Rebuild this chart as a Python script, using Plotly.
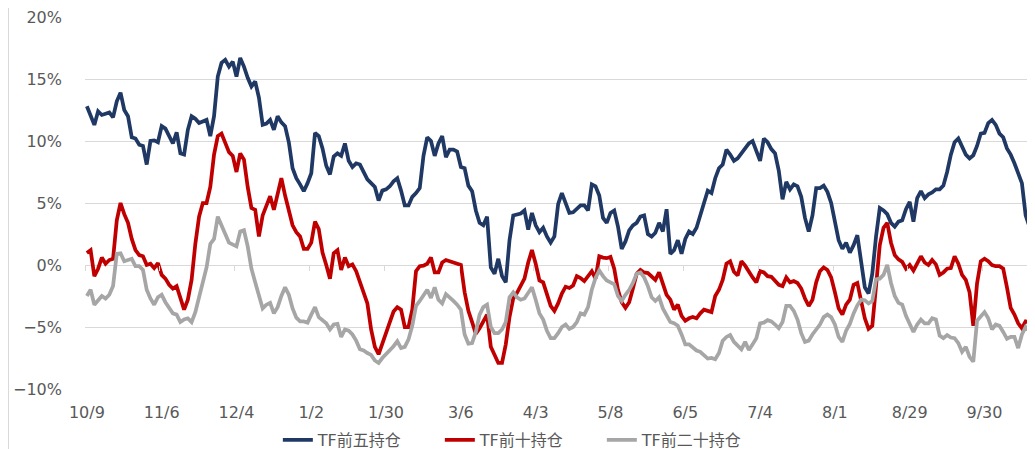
import plotly.graph_objects as go

tick_labels = ["10/9", "11/6", "12/4", "1/2", "1/30", "3/6", "4/3", "5/8",
               "6/5", "7/4", "8/1", "8/29", "9/30"]

top5 = [12.8, 12.0, 11.3, 12.4, 12.1, 12.2, 12.3, 11.9, 13.2, 13.9,
        12.5, 12.0, 10.3, 10.2, 9.7, 9.6, 8.1, 10.0, 10.05, 9.9,
        11.2, 11.0, 10.4, 9.8, 10.7, 9.0, 8.9, 10.9, 12.0, 11.8,
        11.45, 11.6, 11.7, 10.4, 12.0, 15.2, 16.3, 16.55, 16.0, 16.4,
        15.2, 16.7, 16.0, 15.1, 14.4, 14.8, 13.5, 11.3, 11.4, 11.7,
        10.9, 12.0, 11.5, 11.2, 9.9, 7.8, 7.0, 6.5, 5.95, 6.6,
        7.4, 10.65, 10.4, 9.4, 8.0, 7.3, 8.75, 9.0, 8.8, 9.8,
        8.4, 7.9, 8.2, 8.1, 7.55, 6.9, 6.6, 6.3, 5.2, 6.0,
        6.1, 6.35, 6.75, 7.0, 6.0, 4.8, 4.8, 5.5, 5.8, 6.2,
        8.8, 10.3, 10.0, 8.8, 9.8, 10.4, 8.7, 9.3, 9.3, 9.15,
        7.9, 7.8, 6.4, 5.95, 4.4, 3.4, 3.2, 3.9, -0.2, -0.7,
        0.5, -0.9, -1.4, 2.0, 4.0, 4.1, 4.15, 4.4, 2.85, 4.2,
        3.2, 2.65, 3.0, 2.3, 1.8, 2.3, 4.9, 5.8, 5.0, 4.2,
        4.25, 4.55, 4.8, 4.8, 4.4, 6.5, 6.35, 5.6, 3.8, 3.4,
        4.2, 4.4, 3.1, 1.3, 1.9, 2.8, 3.2, 3.4, 3.9, 4.0,
        2.5, 2.3, 2.6, 3.4, 2.7, 4.5, 0.9, 1.2, 2.0, 0.9,
        2.1, 2.7, 2.5, 3.0, 3.9, 5.0, 6.0, 5.8, 7.0, 7.8,
        8.1, 9.3, 8.9, 8.4, 8.6, 9.0, 9.3, 9.8, 10.0, 9.1,
        8.4, 10.2, 9.9, 9.35, 9.0, 7.6, 5.3, 6.7, 6.1, 6.5,
        6.35, 5.5, 3.8, 2.7, 4.0, 6.2, 6.2, 6.4, 5.9, 5.0,
        3.3, 2.0, 1.3, 1.8, 1.0, 1.6, 2.4, 0.4, -1.8, -2.3,
        -0.7, 2.3, 4.6, 4.4, 4.1, 3.4, 3.1, 3.5, 3.6, 4.5,
        5.1, 3.5, 5.4, 5.95, 5.4, 5.7, 5.85, 6.1, 6.1, 6.4,
        7.5, 8.9, 9.9, 10.2, 9.6, 8.9, 8.6, 8.85, 9.6, 10.6,
        10.65, 11.45, 11.7, 11.3, 10.6, 10.3, 9.4, 8.9, 8.2, 7.45,
        6.6, 4.0, 3.1, 3.8]

top10 = [0.97, 1.2, -0.9, -0.3, 0.6, 0.1, 0.4, 0.5, 3.6, 5.0,
         4.1, 3.4, 2.1, 1.2, 0.8, 0.7, 0.0, 0.1, -0.25, 0.15,
         -0.8, -1.1, -1.6, -1.9, -1.7, -2.6, -3.6, -2.8, -1.2, 1.7,
         3.9, 5.0, 5.0, 6.3, 8.9, 10.4, 10.6, 9.85, 9.1, 8.8,
         7.5, 9.0, 8.5, 6.3, 4.6, 4.45, 2.3, 4.0, 4.8, 5.55,
         4.45, 5.6, 7.0, 5.6, 4.5, 3.2, 2.65, 2.3, 1.3, 1.3,
         1.8, 3.5, 2.9, 1.0, 0.0, -1.1, 0.95, 1.2, -0.4, 0.6,
         -0.1, 0.05, -0.5, -1.4, -2.25, -3.1, -5.2, -6.6, -7.2, -6.4,
         -5.5, -4.6, -3.75, -3.4, -3.6, -5.0, -5.0, -3.6, -0.5, -0.1,
         -0.05, 0.1, 0.6, -0.6, -0.6, 0.2, 0.4, 0.3, 0.2, 0.1,
         0.0, -2.2, -3.7, -4.6, -5.55, -5.1, -4.6, -4.0, -6.6, -7.2,
         -7.9, -7.9, -6.4, -4.2, -2.7, -2.25, -1.6, -1.1, 0.2, 1.2,
         0.1, -1.25, -1.4, -2.4, -3.3, -3.7, -3.1, -2.3, -1.75, -1.85,
         -1.65, -0.9, -1.05, -1.3, -0.85, -0.5, -1.1, 0.7, 0.6, 0.55,
         0.65, -0.3, -2.0, -3.0, -3.45, -3.0, -1.9, -0.7, -0.4, -0.6,
         -0.65, -0.95, -1.2, -0.6, -1.5, -2.4, -2.8, -3.6, -3.2, -4.1,
         -4.5, -4.3, -4.2, -4.3, -3.9, -3.6, -3.7, -3.8, -2.5, -2.0,
         -1.2, 0.1, 0.3, -0.55, -0.85, 0.3, -0.05, -0.6, -1.0, -1.4,
         -0.5, -0.6, -0.9, -0.95, -1.25, -1.6, -1.7, -1.0, -1.4, -1.3,
         -1.45, -1.9, -2.7, -3.3, -2.8, -1.4, -0.5, -0.2, -0.4, -1.0,
         -2.2, -3.5, -4.0, -3.2, -2.8, -1.6, -1.45, -2.85, -4.3, -5.15,
         -4.9, -1.7, 1.6, 3.0, 3.4, 1.8, 0.8, 0.45, 0.25, -0.3,
         0.0, -0.45, 0.1, 0.7, 0.2, 0.0, 0.4, 0.05, -0.8, -0.6,
         -0.3, -0.25, 0.7, 0.1, -0.8, -1.2, -2.2, -4.9, -1.5, 0.3,
         0.5, 0.3, 0.0, -0.1, -0.1, -0.3, -1.8, -3.45, -4.0, -4.7,
         -5.1, -4.55, -4.6, -5.2]

top20 = [-2.5, -2.0, -3.2, -2.8, -2.5, -2.7, -2.4, -1.7, 0.9, 0.95,
         0.3, 0.4, 0.5, -0.1, -0.1, -0.4, -2.0, -2.7, -3.2, -2.6,
         -2.4, -3.0, -3.5, -3.9, -4.0, -4.6, -4.4, -4.3, -4.6, -3.8,
         -2.6, -1.4, -0.2, 1.7, 2.1, 3.9, 3.1, 2.5, 1.8, 1.65,
         1.5, 2.7, 2.8, 1.5, -0.3, -1.4, -2.5, -3.5, -3.2, -3.05,
         -3.9, -3.4, -2.5, -1.8, -2.4, -3.5, -4.25, -4.55, -4.55, -4.65,
         -4.0, -3.4, -4.2, -4.5, -4.7, -5.2, -4.8, -4.75, -5.8, -5.2,
         -5.3, -5.6, -6.1, -6.8, -6.9, -7.1, -7.25, -7.7, -7.9, -7.5,
         -7.2, -6.8, -6.55, -6.15, -6.7, -6.6, -6.0, -4.9, -3.3, -2.9,
         -2.5, -2.0, -2.65, -1.8, -2.8, -3.1, -2.35, -2.6, -2.9, -3.2,
         -3.6, -5.6, -6.35, -6.3, -5.4, -4.0, -3.4, -3.2, -5.0, -5.5,
         -5.5, -5.2, -4.6, -2.6, -2.2, -2.6, -2.8, -2.7, -2.3, -1.8,
         -2.8, -3.9, -4.4, -5.3, -5.9, -5.9, -5.5, -5.0, -4.8, -5.15,
         -5.0, -4.6, -3.9, -4.0, -3.4, -2.0, -1.05, -0.45, -0.9, -1.25,
         -1.4, -1.55, -2.5, -2.9, -2.4, -2.0, -1.45, -0.7, -0.6, -1.0,
         -1.7, -2.6, -2.9, -2.6, -3.5, -4.0, -4.6, -4.7, -4.9, -5.6,
         -6.4, -6.4, -6.7, -6.9, -7.0, -7.3, -7.55, -7.5, -7.6, -7.1,
         -6.1, -5.8, -5.65, -6.2, -6.5, -6.8, -6.2, -6.85, -6.4, -5.9,
         -4.7, -4.65, -4.45, -4.55, -4.8, -5.1, -4.6, -3.3, -3.3, -3.7,
         -4.4, -5.5, -6.2, -6.1, -5.6, -5.2, -4.8, -4.2, -4.0, -4.2,
         -4.8, -5.8, -6.2, -5.3, -4.75, -3.9, -3.25, -2.8, -2.85, -3.1,
         -2.9, -1.15, -1.1, -0.8, 0.0, -1.45, -2.5, -3.05, -3.2, -4.1,
         -4.85, -5.4, -4.8, -4.4, -4.7, -4.7, -4.3, -4.4, -5.7, -5.9,
         -5.65, -5.85, -5.9, -6.3, -7.0, -6.6, -7.4, -7.8, -4.5, -4.2,
         -3.8, -4.3, -5.2, -4.8, -4.9, -5.4, -5.95, -5.8, -5.8, -6.7,
         -5.6, -5.0, -5.3, -5.6]

names = ["TF前五持仓", "TF前十持仓", "TF前二十持仓"]
colors = ["#1F3864", "#C00000", "#A6A6A6"]
series = [top5, top10, top20]

n = len(top5)
xs = list(range(n))
tick_step = 20
tickvals = [i * tick_step for i in range(len(tick_labels))]

font_family = "DejaVu Sans, Noto Sans CJK SC, sans-serif"
label_color = "#595959"
grid_color = "#D9D9D9"

fig = go.Figure()
for name, col, ys in zip(names, colors, series):
    fig.add_trace(go.Scatter(x=xs, y=ys, mode="lines", name=name,
                             line=dict(color=col, width=3.75)))

# invisible helper trace on the tick-mark axis
fig.add_trace(go.Scatter(x=[0], y=[0], xaxis="x2", mode="lines",
                         showlegend=False, hoverinfo="skip",
                         line=dict(width=0)))

fig.update_layout(
    width=1027, height=441,
    margin=dict(l=77, r=0, t=9, b=60, autoexpand=False),
    paper_bgcolor="white", plot_bgcolor="white",
    font=dict(family=font_family, color=label_color, size=16),
    xaxis=dict(range=[-0.5, n - 0.5], tickmode="array", tickvals=tickvals,
               ticktext=tick_labels, showgrid=False, zeroline=False,
               showline=False, ticks="", ticklabelstandoff=12,
               automargin=False, ticklabeloverflow="allow",
               tickfont=dict(size=16, color=label_color)),
    xaxis2=dict(range=[-0.5, n - 0.5], overlaying="x", anchor="free",
                position=1 / 3, tickmode="array",
                tickvals=[v - 0.5 for v in tickvals],
                ticks="outside", ticklen=5, tickcolor=grid_color,
                showticklabels=False, showgrid=False, zeroline=False,
                showline=False, automargin=False),
    yaxis=dict(range=[-10, 20], dtick=5, tick0=0, ticksuffix="%",
               showgrid=True, gridcolor=grid_color, gridwidth=1,
               zeroline=False, showline=False, ticklabelstandoff=22,
               automargin=False, ticklabeloverflow="allow",
               tickfont=dict(size=16, color=label_color)),
    legend=dict(orientation="h", x=0.203, xanchor="left", y=-0.137,
                yanchor="middle", font=dict(size=16, color=label_color),
                entrywidth=117, entrywidthmode="pixels",
                bgcolor="rgba(0,0,0,0)"),
    showlegend=True,
    shapes=[dict(type="line", xref="paper", yref="paper",
                 x0=-76.5 / 950, x1=-76.5 / 950, y0=-0.2, y1=1.03,
                 line=dict(color=grid_color, width=1), layer="below")],
)

fig.write_html("out.html")
